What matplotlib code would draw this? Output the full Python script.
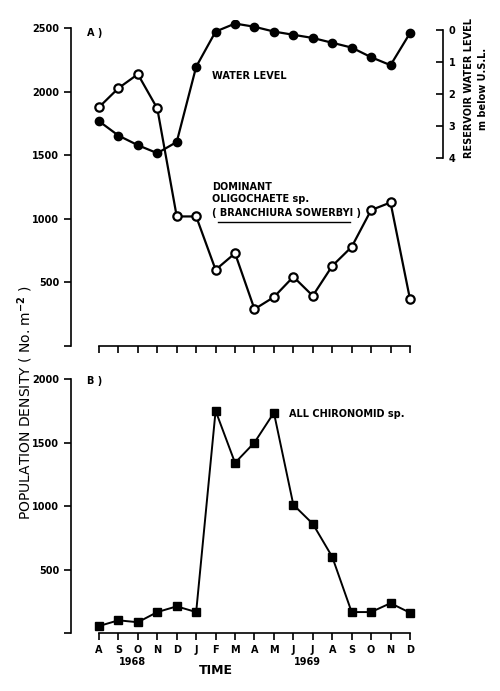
import matplotlib.pyplot as plt
import matplotlib as mpl

mpl.rcParams['font.family'] = ['DejaVu Sans']
mpl.rcParams['font.weight'] = 'bold'

# data
months = ['A', 'S', 'O', 'N', 'D', 'J', 'F', 'M', 'A', 'M', 'J', 'J', 'A', 'S', 'O', 'N', 'D']
oligo = [1880, 2030, 2140, 1870, 1020, 1020, 600, 730, 290, 385, 545, 395, 630, 780, 1070, 1130, 370]
water_level = [2.85, 3.3, 3.6, 3.85, 3.5, 1.15, 0.05, -0.2, -0.1, 0.05, 0.15, 0.25, 0.4, 0.55, 0.85, 1.1, 0.1]
chiro = [55, 100, 85, 165, 210, 165, 1750, 1340, 1500, 1735, 1010, 860, 600, 165, 165, 235, 160]
x = list(range(len(months)))

fig = plt.figure(figsize=(5, 6.91), dpi=100)
axA = fig.add_axes([0.142, 0.4993, 0.744, 0.4718])
axB = fig.add_axes([0.142, 0.0839, 0.744, 0.3806])

for ax in (axA, axB):
    ax.set_xlim(-1.44, 17.7)
    for s in ('top', 'right'):
        ax.spines[s].set_visible(False)
    ax.spines['left'].set_linewidth(1.2)
    ax.spines['bottom'].set_linewidth(1.2)
    ax.spines['bottom'].set_bounds(0, 16)
    ax.set_xticks(x)
    ax.tick_params(axis='both', direction='out', length=5, width=1.2, labelsize=7)

# ---- panel A
axA.set_ylim(0, 2567)
axA.spines['left'].set_bounds(0, 2500)
axA.set_yticks([0, 500, 1000, 1500, 2000, 2500])
axA.set_yticklabels(['', '500', '1000', '1500', '2000', '2500'])
axA.set_xticklabels([])
axA.plot(x, oligo, color='black', lw=1.6, marker='o', ms=6, mfc='white', mec='black', mew=1.6, zorder=3)

twin = axA.twinx()
twin.set_ylim(9.875, -0.3125)
for s in ('top', 'left', 'bottom'):
    twin.spines[s].set_visible(False)
twin.spines['right'].set_bounds(0, 4)
twin.spines['right'].set_linewidth(1.2)
twin.set_yticks([0, 1, 2, 3, 4])
twin.tick_params(axis='y', direction='in', length=5, width=1.2, labelsize=7, pad=4)
twin.plot(x, water_level, color='black', lw=1.6, marker='o', ms=6, mfc='black', mec='black', zorder=4)

axA.text(-0.6, 2440, 'A )', fontsize=7)
axA.text(5.8, 2100, 'WATER LEVEL', fontsize=7)
axA.text(5.8, 1230, 'DOMINANT', fontsize=7)
axA.text(5.8, 1135, 'OLIGOCHAETE sp.', fontsize=7)
axA.text(5.8, 1025, '( BRANCHIURA SOWERBYI )', fontsize=7)
axA.plot([6.1, 12.9], [975, 975], color='black', lw=1.0)

fig.text(0.953, 0.872, 'RESERVOIR WATER LEVEL\nm below U.S.L.', rotation=90,
         ha='center', va='center', fontsize=7, linespacing=1.5, multialignment='center')

# ---- panel B
axB.set_ylim(0, 2071)
axB.spines['left'].set_bounds(0, 2000)
axB.set_yticks([0, 500, 1000, 1500, 2000])
axB.set_yticklabels(['', '500', '1000', '1500', '2000'])
axB.set_xticklabels(months)
axB.plot(x, chiro, color='black', lw=1.4, marker='s', ms=6, mfc='black', mec='black', zorder=3)

axB.text(-0.6, 1960, 'B )', fontsize=7)
axB.text(9.8, 1700, 'ALL CHIRONOMID sp.', fontsize=7)
axB.text(1.75, -250, '1968', fontsize=7, ha='center')
axB.text(10.7, -250, '1969', fontsize=7, ha='center')
axB.text(6.0, -320, 'TIME', fontsize=9, ha='center')

fig.text(0.05, 0.417, 'POPULATION DENSITY ( No. m$^{-2}$ )', rotation=90,
         ha='center', va='center', fontsize=10, fontweight='normal')

fig.savefig('out.png', dpi=100)
